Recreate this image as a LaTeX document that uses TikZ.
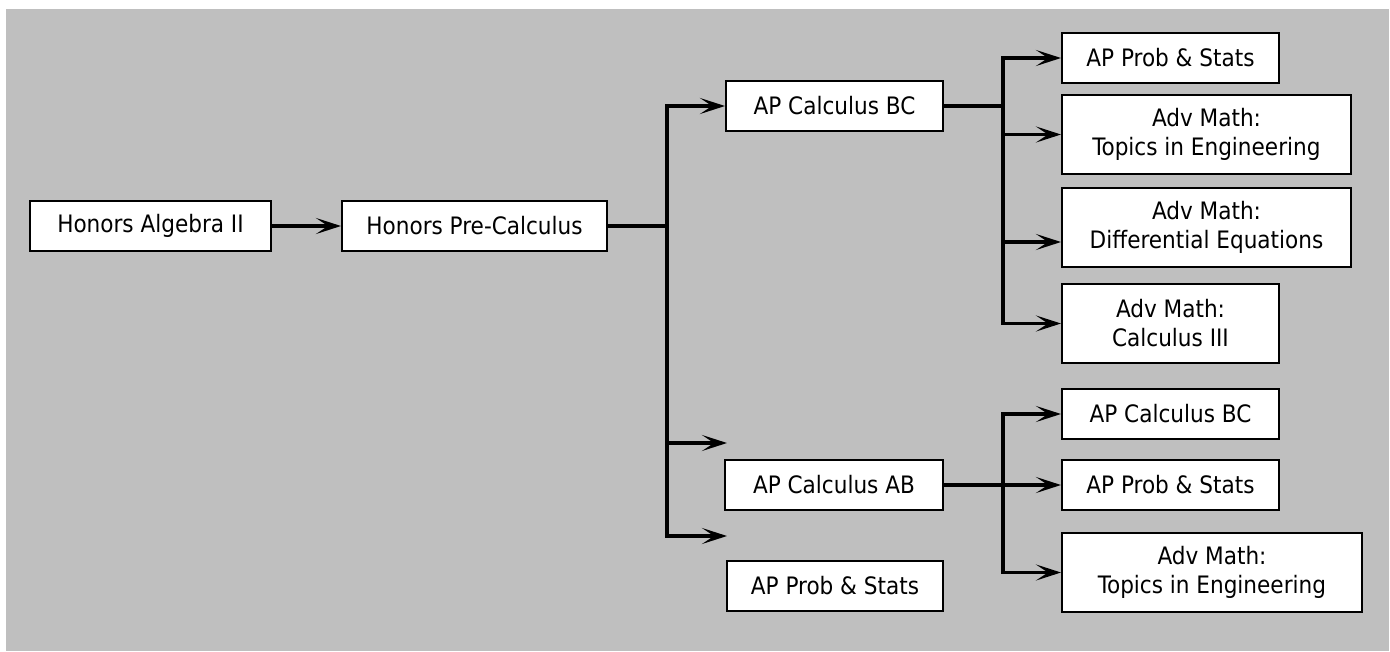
\documentclass[tikz,border=0pt]{standalone}
\usepackage{fontspec}
\setmainfont{DejaVu Sans Condensed}
\usetikzlibrary{arrows.meta}
\tikzset{
  box/.style={draw=black, line width=2pt, fill=white, inner sep=0pt, align=center,
    font=\fontsize{24}{29}\selectfont},
  conn/.style={line width=3.2pt, draw=black},
  arr/.style={conn, -{Stealth[length=25pt,width=16pt,inset=12pt]}}
}
\begin{document}
\begin{tikzpicture}[x=1pt,y=-1pt]
\useasboundingbox (0,0) rectangle (1390,651);
\fill[white] (0,0) rectangle (1390,651);
\fill[black!25] (6,9) rectangle (1389,651);
% nodes
\node[box, minimum width=241pt, minimum height=50pt] (alg) at (150.5,226) {Honors Algebra II};
\node[box, minimum width=265pt, minimum height=50pt] (pre) at (474.5,226) {Honors Pre-Calculus};
\node[box, minimum width=217pt, minimum height=50pt] (bc) at (834.5,106) {AP Calculus BC};
\node[box, minimum width=218pt, minimum height=50pt] (ab) at (834,485) {AP Calculus AB};
\node[box, minimum width=216pt, minimum height=50pt] (ps0) at (835,586) {AP Prob \& Stats};
\node[box, minimum width=217pt, minimum height=50pt] (r1) at (1170.5,58) {AP Prob \& Stats};
\node[box, minimum width=289pt, minimum height=79pt] (r2) at (1206.5,134.5) {Adv Math:\\Topics in Engineering};
\node[box, minimum width=289pt, minimum height=79pt] (r3) at (1206.5,227.5) {Adv Math:\\Differential Equations};
\node[box, minimum width=217pt, minimum height=79pt] (r4) at (1170.5,323.5) {Adv Math:\\Calculus III};
\node[box, minimum width=217pt, minimum height=50pt] (r5) at (1170.5,414) {AP Calculus BC};
\node[box, minimum width=217pt, minimum height=50pt] (r6) at (1170.5,485) {AP Prob \& Stats};
\node[box, minimum width=300pt, minimum height=79pt] (r7) at (1212,572.5) {Adv Math:\\Topics in Engineering};
% junctions and free ends
\coordinate (j1) at (667,226);
\coordinate (j2) at (1003,106);
\coordinate (j3) at (1003,485);
\coordinate (e1) at (727,443);
\coordinate (e2) at (727,536);
% connectors
\draw[arr] (alg.east) -- (pre.west);
\draw[conn] (pre.east) -- (j1);
\draw[arr] (j1) |- (bc.west);
\draw[arr] (j1) |- (e1);
\draw[arr] (j1) |- (e2);
\draw[conn] (bc.east) -- (j2);
\draw[arr] (j2) |- (r1.west);
\draw[arr] (j2) |- (r2.west);
\draw[arr] (j2) |- ([yshift=-14.5pt]r3.west);
\draw[arr] (j2) |- (r4.west);
\draw[conn] (ab.east) -- (j3);
\draw[arr] (j3) |- (r5.west);
\draw[arr] (j3) -- (r6.west);
\draw[arr] (j3) |- (r7.west);
\end{tikzpicture}
\end{document}
